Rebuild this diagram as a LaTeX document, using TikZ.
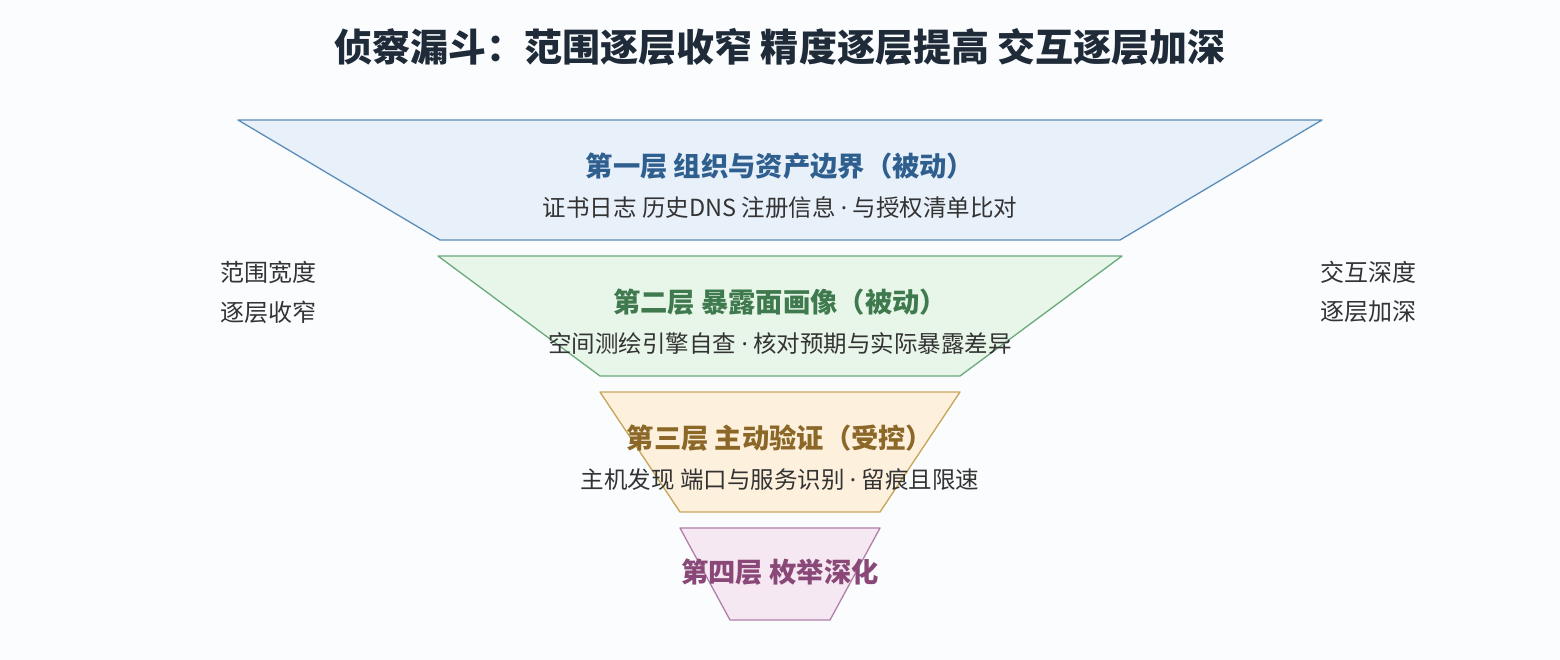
\documentclass[tikz,border=0pt]{standalone}
\usepackage{fontspec}
\setmainfont{Noto Sans CJK SC}
\newfontfamily\latinf{Noto Sans}
\newcommand{\mdt}{{\latinf ·}}
\begin{document}
\begin{tikzpicture}[x=1pt,y=-1pt,
 tz/.style={line width=1.3pt,line join=round},
 ttl/.style={font=\fontsize{27.3}{30}\selectfont\bfseries},
 sub/.style={font=\fontsize{23.5}{26}\selectfont,text=black!80},
 side/.style={font=\fontsize{24}{26}\selectfont,text=black!80,align=left}]
\definecolor{bg}{HTML}{FAFCFE}
\fill[bg] (0,0) rectangle (1560,660);
\useasboundingbox (0,0) rectangle (1560,660);
\node[font=\fontsize{38}{42}\selectfont\bfseries,text={rgb,255:red,31;green,43;blue,56}] (title) at (780,47) {侦察漏斗：范围逐层收窄 精度逐层提高 交互逐层加深};
\filldraw[tz,fill={rgb,255:red,232;green,240;blue,250},draw={rgb,255:red,91;green,141;blue,184}] (238,120)--(1322,120)--(1120,240)--(440,240)--cycle;
\filldraw[tz,fill={rgb,255:red,232;green,245;blue,233},draw={rgb,255:red,106;green,170;blue,122}] (438,256)--(1122,256)--(960,376)--(600,376)--cycle;
\filldraw[tz,fill={rgb,255:red,253;green,241;blue,222},draw={rgb,255:red,201;green,165;blue,90}] (600,392)--(960,392)--(880,512)--(680,512)--cycle;
\filldraw[tz,fill={rgb,255:red,246;green,232;blue,242},draw={rgb,255:red,176;green,127;blue,170}] (680,528)--(880,528)--(830,620)--(730,620)--cycle;
\node[ttl,text={rgb,255:red,47;green,95;blue,143}] (l1) at (780,166) {第一层 组织与资产边界（被动）};
\node[sub] (s1) at (780,208) {证书日志 历史DNS 注册信息 \mdt{} 与授权清单比对};
\node[ttl,text={rgb,255:red,63;green,122;blue,78}] (l2) at (780,302) {第二层 暴露面画像（被动）};
\node[sub] (s2) at (780,344) {空间测绘引擎自查 \mdt{} 核对预期与实际暴露差异};
\node[ttl,text={rgb,255:red,140;green,104;blue,40}] (l3) at (780,438) {第三层 主动验证（受控）};
\node[sub] (s3) at (780,480) {主机发现 端口与服务识别 \mdt{} 留痕且限速};
\node[ttl,text={rgb,255:red,138;green,72;blue,120}] (l4) at (780,572) {第四层 枚举深化};
\node[side] (lt1) at (268,272) {范围宽度};
\node[side] (lt2) at (268,312) {逐层收窄};
\node[side] (rt1) at (1368,272) {交互深度};
\node[side] (rt2) at (1368,312) {逐层加深};
\end{tikzpicture}
\end{document}
